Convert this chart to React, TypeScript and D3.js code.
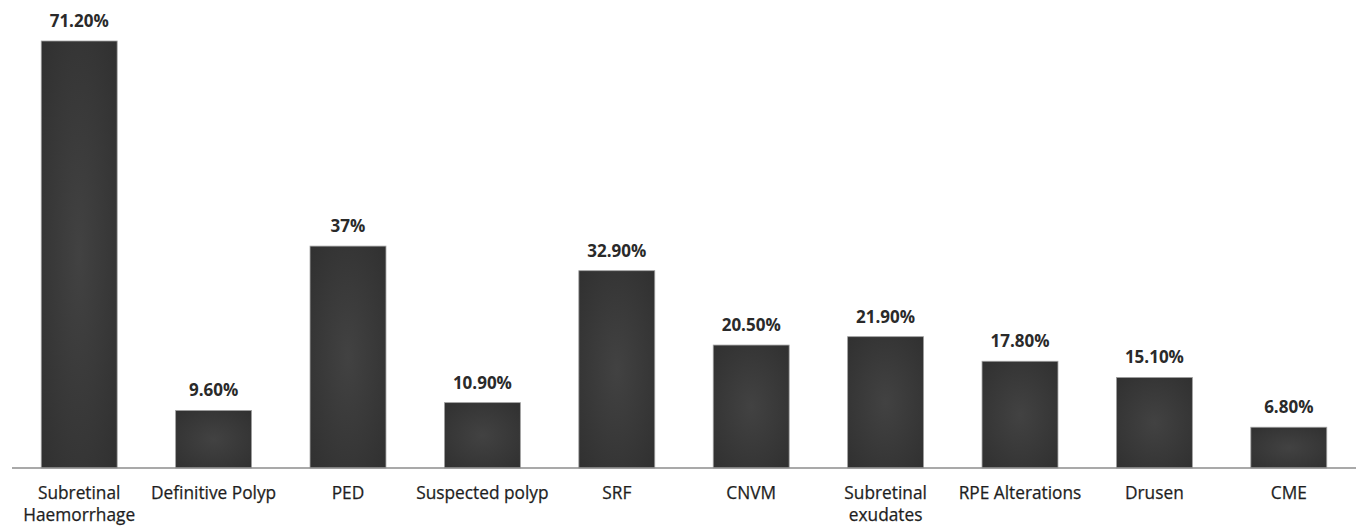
import React from "react";
import * as d3 from "d3";

const categories: string[][] = [
  ["Subretinal", "Haemorrhage"],
  ["Definitive Polyp"],
  ["PED"],
  ["Suspected polyp"],
  ["SRF"],
  ["CNVM"],
  ["Subretinal", "exudates"],
  ["RPE Alterations"],
  ["Drusen"],
  ["CME"],
];
const values: number[] = [71.2, 9.6, 37, 10.9, 32.9, 20.5, 21.9, 17.8, 15.1, 6.8];
const valueLabels: string[] = ["71.20%", "9.60%", "37%", "10.90%", "32.90%", "20.50%", "21.90%", "17.80%", "15.10%", "6.80%"];

const W = 1357;
const H = 527;
const FONT = "'Open Sans', 'Noto Sans', sans-serif";

export default function App() {
  const keys = categories.map((c) => c.join(" "));
  const x = d3.scaleBand<string>().domain(keys).range([12, 1356]).paddingInner(0.435).paddingOuter(0.2175);
  const y = d3.scaleLinear().domain([0, 71.2]).range([468, 41]);
  return (
    <svg width={W} height={H} style={{ position: "absolute", left: 0, top: 0, background: "#fff" }}>
      <defs>
        <radialGradient id="barGrad" cx="50%" cy="50%" r="75%">
          <stop offset="0%" stopColor="#424242" />
          <stop offset="100%" stopColor="#2f2f2f" />
        </radialGradient>
      </defs>
      {values.map((v, i) => {
        const k = keys[i];
        const bx = x(k)!;
        const bw = x.bandwidth();
        return (
          <g key={k}>
            <rect x={bx} y={y(v)} width={bw} height={y(0) - y(v)} fill="url(#barGrad)" stroke="#a0a0a0" strokeWidth={0.8} />
            <text x={bx + bw / 2} y={y(v) - 14} textAnchor="middle" fontFamily={FONT} fontWeight="bold" fontSize={17} fill="#2a2a2a">
              {valueLabels[i]}
            </text>
            {categories[i].map((line, j) => (
              <text key={j} x={bx + bw / 2} y={499 + j * 22} textAnchor="middle" fontFamily={FONT} fontSize={17.3} fill="#1e1e1e" stroke="#1e1e1e" strokeWidth={0.25}>
                {line}
              </text>
            ))}
          </g>
        );
      })}
      <line x1={12} x2={1356} y1={y(0)} y2={y(0)} stroke="#8c8c8c" strokeWidth={1.5} />
    </svg>
  );
}
